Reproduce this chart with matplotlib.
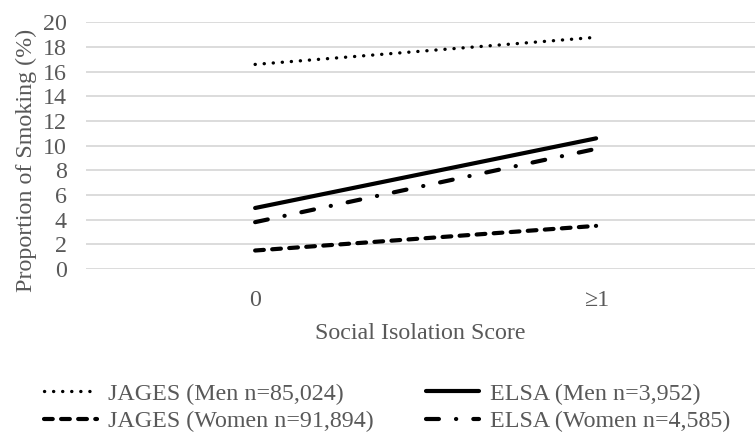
import matplotlib.pyplot as plt

plt.rcParams["font.family"] = ["Liberation Serif", "DejaVu Serif"]

categories = ["0", "\u22651"]
jages_men = [16.6, 18.8]
jages_women = [1.5, 3.5]
elsa_men = [4.95, 10.6]
elsa_women = [3.8, 9.75]

TEXT = "#595959"
FS = 17.3
LW = 3.0

fig = plt.figure(figsize=(7.55, 4.36), dpi=100)
ax = fig.add_axes([86 / 755, (436 - 269) / 436, (755 - 86) / 755, (269 - 22.5) / 436])

x = list(range(len(categories)))
ax.plot(x, jages_men, color="black", lw=2.4, linestyle=(0, (0.05, 2.67)),
        dash_capstyle="round", label="JAGES (Men n=85,024)")
ax.plot(x, jages_women, color="black", lw=LW, linestyle=(0, (2.1, 2.0)),
        dash_capstyle="round", label="JAGES (Women n=91,894)")
ax.plot(x, elsa_men, color="black", lw=LW, solid_capstyle="round",
        label="ELSA (Men n=3,952)")
ax.plot(x, elsa_women, color="black", lw=LW, linestyle=(0, (3.1, 4.1, 0.05, 4.1)),
        dash_capstyle="round", label="ELSA (Women n=4,585)")

ax.set_ylim(0, 20)
ax.set_yticks(range(0, 21, 2))
ax.set_xlim(-0.496, 1.466)
ax.set_xticks(x)
ax.set_xticklabels(categories)
ax.yaxis.grid(True, color="#d9d9d9", lw=1.3)
ax.set_axisbelow(True)
for s in ax.spines.values():
    s.set_visible(False)
ax.tick_params(length=0, labelsize=FS, labelcolor=TEXT)
ax.tick_params(axis="x", pad=15)
ax.tick_params(axis="y", pad=14)

ax.set_xlabel("Social Isolation Score", fontsize=FS, color=TEXT, labelpad=9)
ax.set_ylabel("Proportion of Smoking (%)", fontsize=FS, color=TEXT)
ax.yaxis.set_label_coords(-0.073, 0.442)

handles, labels = ax.get_legend_handles_labels()
leg = fig.legend(handles, labels, ncol=2, frameon=False, fontsize=FS,
                 loc="upper left", bbox_to_anchor=(44 / 755, 1 - 383 / 436),
                 borderpad=0, borderaxespad=0, handlelength=2.2,
                 handletextpad=0.45, columnspacing=2.2, labelspacing=0.23)
for t in leg.get_texts():
    t.set_color(TEXT)

fig.savefig("out.png", dpi=100)
